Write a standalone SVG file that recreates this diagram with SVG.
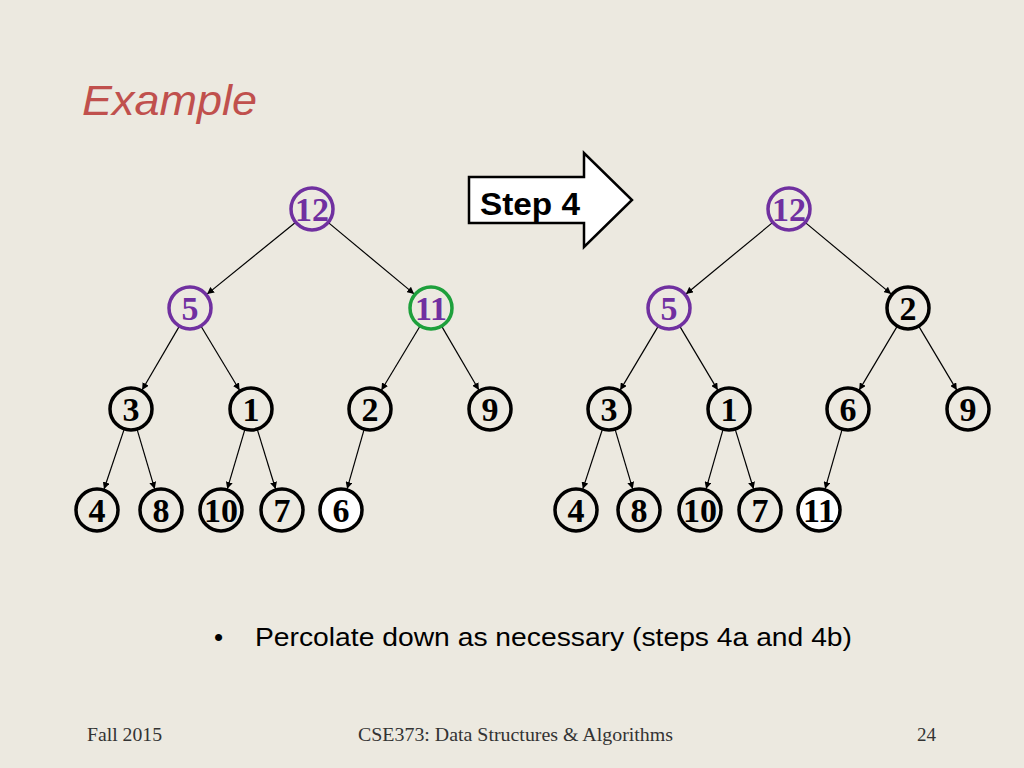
<svg xmlns="http://www.w3.org/2000/svg" width="1024" height="768" viewBox="0 0 1024 768">
<style>
.n{fill:none;stroke:#000;stroke-width:3.5}
.p{stroke:#7030a0}
.g{stroke:#1ea03c}
.w{fill:#fff}
.t{font-family:"Liberation Serif",serif;font-weight:bold;font-size:34px;text-anchor:middle;fill:#000}
.tp{fill:#7030a0}
.e{stroke:#000;stroke-width:1.2;marker-end:url(#a)}
</style>
<defs><marker id="a" viewBox="0 0 10 10" refX="10" refY="5" markerWidth="7" markerHeight="7" orient="auto" markerUnits="userSpaceOnUse"><path d="M0,0 L10,5 L0,10z" fill="#000"/></marker></defs>
<rect width="1024" height="768" fill="#ece9e0"/>
<text x="82" y="115" font-family="Liberation Sans,sans-serif" font-style="italic" font-size="42" fill="#c0504d" textLength="175" lengthAdjust="spacingAndGlyphs">Example</text>
<g id="step4">
<polygon points="469,177 584,177 584,153 632,200 584,247 584,223 469,223" fill="#fff" stroke="#000" stroke-width="2.5"/>
<text x="480" y="215" font-family="Liberation Sans,sans-serif" font-weight="bold" font-size="31" fill="#000" textLength="100" lengthAdjust="spacingAndGlyphs">Step 4</text>
</g>
<g id="connectors">
<line class="e" x1="295.7" y1="222.2" x2="207.1" y2="294.1"/>
<line class="e" x1="328.1" y1="222.4" x2="414.1" y2="293.9"/>
<line class="e" x1="179.4" y1="326.1" x2="142.1" y2="390"/>
<line class="e" x1="200.9" y1="326" x2="239.6" y2="390.2"/>
<line class="e" x1="420.1" y1="326" x2="381.4" y2="390.2"/>
<line class="e" x1="441.6" y1="326.1" x2="478.9" y2="390"/>
<line class="e" x1="124.3" y1="428.9" x2="104" y2="489.2"/>
<line class="e" x1="137" y1="429.1" x2="154.7" y2="488.9"/>
<line class="e" x1="245" y1="429.1" x2="227.3" y2="488.9"/>
<line class="e" x1="257.2" y1="429.1" x2="275.6" y2="489"/>
<line class="e" x1="364.2" y1="429.2" x2="347.1" y2="488.9"/>
<line class="e" x1="772.8" y1="222.4" x2="686" y2="294"/>
<line class="e" x1="805.1" y1="222.4" x2="891.1" y2="293.9"/>
<line class="e" x1="658.3" y1="326.1" x2="620.2" y2="390.1"/>
<line class="e" x1="679.7" y1="326.1" x2="717.8" y2="390.1"/>
<line class="e" x1="897.3" y1="326.1" x2="859.2" y2="390.1"/>
<line class="e" x1="918.7" y1="326.1" x2="956.8" y2="390.1"/>
<line class="e" x1="602.5" y1="429" x2="582.8" y2="489.1"/>
<line class="e" x1="615" y1="429.1" x2="632.7" y2="488.9"/>
<line class="e" x1="723.2" y1="429.2" x2="706.1" y2="488.9"/>
<line class="e" x1="735.2" y1="429.1" x2="753.6" y2="489"/>
<line class="e" x1="842.2" y1="429.2" x2="825.1" y2="488.9"/>
</g>
<g id="L12"><circle class="n p" cx="312" cy="209" r="21"/><text class="t tp" x="312" y="221" textLength="34" lengthAdjust="spacingAndGlyphs">12</text></g>
<g id="L5"><circle class="n p" cx="190" cy="308" r="21"/><text class="t tp" x="190" y="320">5</text></g>
<g id="L11"><circle class="n g" cx="431" cy="308" r="21"/><text class="t tp" x="431" y="320" textLength="32" lengthAdjust="spacingAndGlyphs">11</text></g>
<g id="L3"><circle class="n" cx="131" cy="409" r="21"/><text class="t" x="131" y="421">3</text></g>
<g id="L1"><circle class="n" cx="251" cy="409" r="21"/><text class="t" x="251" y="421">1</text></g>
<g id="L2"><circle class="n" cx="370" cy="409" r="21"/><text class="t" x="370" y="421">2</text></g>
<g id="L9"><circle class="n" cx="490" cy="409" r="21"/><text class="t" x="490" y="421">9</text></g>
<g id="L4"><circle class="n" cx="97" cy="510" r="21"/><text class="t" x="97" y="522">4</text></g>
<g id="L8"><circle class="n" cx="161" cy="510" r="21"/><text class="t" x="161" y="522">8</text></g>
<g id="L10"><circle class="n" cx="221" cy="510" r="21"/><text class="t" x="221" y="522" textLength="34" lengthAdjust="spacingAndGlyphs">10</text></g>
<g id="L7"><circle class="n" cx="282" cy="510" r="21"/><text class="t" x="282" y="522">7</text></g>
<g id="L6"><circle class="n w" cx="341" cy="510" r="21"/><text class="t" x="341" y="522">6</text></g>
<g id="R12"><circle class="n p" cx="789" cy="209" r="21"/><text class="t tp" x="789" y="221" textLength="34" lengthAdjust="spacingAndGlyphs">12</text></g>
<g id="R5"><circle class="n p" cx="669" cy="308" r="21"/><text class="t tp" x="669" y="320">5</text></g>
<g id="R2"><circle class="n" cx="908" cy="308" r="21"/><text class="t" x="908" y="320">2</text></g>
<g id="R3"><circle class="n" cx="609" cy="409" r="21"/><text class="t" x="609" y="421">3</text></g>
<g id="R1"><circle class="n" cx="729" cy="409" r="21"/><text class="t" x="729" y="421">1</text></g>
<g id="R6"><circle class="n" cx="848" cy="409" r="21"/><text class="t" x="848" y="421">6</text></g>
<g id="R9"><circle class="n" cx="968" cy="409" r="21"/><text class="t" x="968" y="421">9</text></g>
<g id="R4"><circle class="n" cx="576" cy="510" r="21"/><text class="t" x="576" y="522">4</text></g>
<g id="R8"><circle class="n" cx="639" cy="510" r="21"/><text class="t" x="639" y="522">8</text></g>
<g id="R10"><circle class="n" cx="700" cy="510" r="21"/><text class="t" x="700" y="522" textLength="34" lengthAdjust="spacingAndGlyphs">10</text></g>
<g id="R7"><circle class="n" cx="760" cy="510" r="21"/><text class="t" x="760" y="522">7</text></g>
<g id="R11"><circle class="n w" cx="819" cy="510" r="21"/><text class="t" x="819" y="522" textLength="32" lengthAdjust="spacingAndGlyphs">11</text></g>
<text x="214" y="646" font-family="Liberation Sans,sans-serif" font-size="26" fill="#000">•</text>
<text x="255" y="646" font-family="Liberation Sans,sans-serif" font-size="26" fill="#000" textLength="597" lengthAdjust="spacingAndGlyphs">Percolate down as necessary (steps 4a and 4b)</text>
<g font-family="Liberation Serif,serif" font-size="19" fill="#333">
<text x="87" y="741" textLength="75" lengthAdjust="spacingAndGlyphs">Fall 2015</text>
<text x="358" y="741" textLength="315" lengthAdjust="spacingAndGlyphs">CSE373: Data Structures &amp; Algorithms</text>
<text x="936" y="741" text-anchor="end">24</text>
</g>
</svg>
